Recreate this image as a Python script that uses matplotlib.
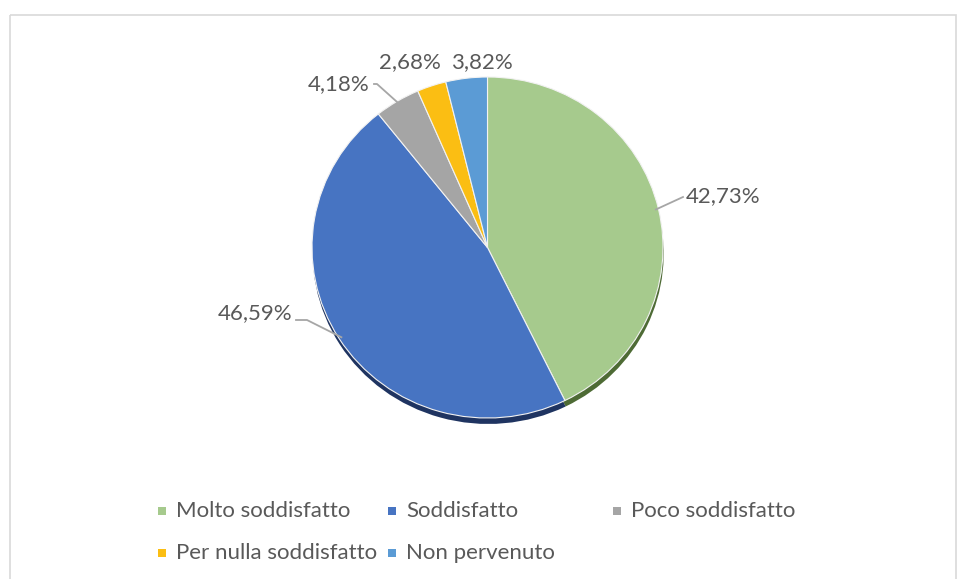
import numpy as np
import matplotlib.pyplot as plt
from matplotlib.patches import Rectangle

categorie = ["Molto soddisfatto", "Soddisfatto", "Poco soddisfatto",
             "Per nulla soddisfatto", "Non pervenuto"]
percentuali = [42.73, 46.59, 4.18, 2.68, 3.82]
colori = ["#A6CA8D", "#4774C2", "#A5A5A5", "#FBBE13", "#5B9BD5"]
ombre = ["#4E6B35", "#1F3461", "#555555", "#7A5C00", "#2A4F73"]

W, H = 957, 579
FONT = "Lato"
GRIGIO_TESTO = "#595959"
FS = 16

fig = plt.figure(figsize=(W / 100, H / 100), dpi=100)
fig.patch.set_facecolor("white")

# area della torta in pixel (sinistra, alto, destra, basso)
L, T, R, B = 312, 77, 663, 418
ax = fig.add_axes([L / W, 1 - B / H, (R - L) / W, (B - T) / H])

# ombra sotto la torta
ax.pie(percentuali, colors=ombre, startangle=90, counterclock=False,
       center=(0.004, -0.035), wedgeprops=dict(linewidth=0))
wedges, _ = ax.pie(percentuali, colors=colori, startangle=90, counterclock=False,
                   wedgeprops=dict(edgecolor="#F2F2F2", linewidth=0.8))
ax.set_aspect("auto")
ax.set_xlim(-1, 1)
ax.set_ylim(-1, 1)
ax.axis("off")

# sovrapposizione in coordinate pixel
ov = fig.add_axes([0, 0, 1, 1], zorder=5)
ov.set_xlim(0, W)
ov.set_ylim(H, 0)
ov.axis("off")
ov.patch.set_alpha(0)

# cornice
ov.add_patch(Rectangle((9.5, 14.5), 946, 600, fill=False, edgecolor="#D9D9D9", linewidth=1.2))


def bordo(w, r=1.0):
    a = np.deg2rad((w.theta1 + w.theta2) / 2)
    x, y = r * np.cos(a), r * np.sin(a)
    return L + (x + 1) / 2 * (R - L), B - (y + 1) / 2 * (B - T)


def etichetta(v):
    return f"{v:.2f}%".replace(".", ",")


# posizioni delle etichette (pixel) e linee guida
pos = [(686, 196, "left"), (292, 313, "right"), (370, 84, "right"),
       (410, 62, "center"), (482, 62, "center")]
guide = [True, True, True, False, False]

for w, v, (px, py, ha), g in zip(wedges, percentuali, pos, guide):
    ov.text(px, py, etichetta(v), ha=ha, va="center", fontsize=FS,
            color=GRIGIO_TESTO, family=FONT)
    if g:
        ex, ey = bordo(w, 0.985)
        if ha == "left":
            ov.plot([ex, px - 3], [ey, py + 1], color="#A6A6A6", lw=1.3)
        else:
            ly = py + 7 if py > 100 else py
            kx = px + 15 if py > 100 else px + 7
            ov.plot([px + 4, kx, ex], [ly, ly, ey], color="#A6A6A6", lw=1.3)

# legenda
col_x = [162, 392, 617, 162, 392]
row_y = [511, 511, 511, 553, 553]
for c, nome, x, y in zip(colori, categorie, col_x, row_y):
    ov.add_patch(Rectangle((x - 4, y - 4), 8, 8, facecolor=c, edgecolor="none"))
    ov.text(x + 14, y, nome, ha="left", va="center", fontsize=FS,
            color=GRIGIO_TESTO, family=FONT)

fig.savefig("out.png", dpi=100, facecolor="white")
